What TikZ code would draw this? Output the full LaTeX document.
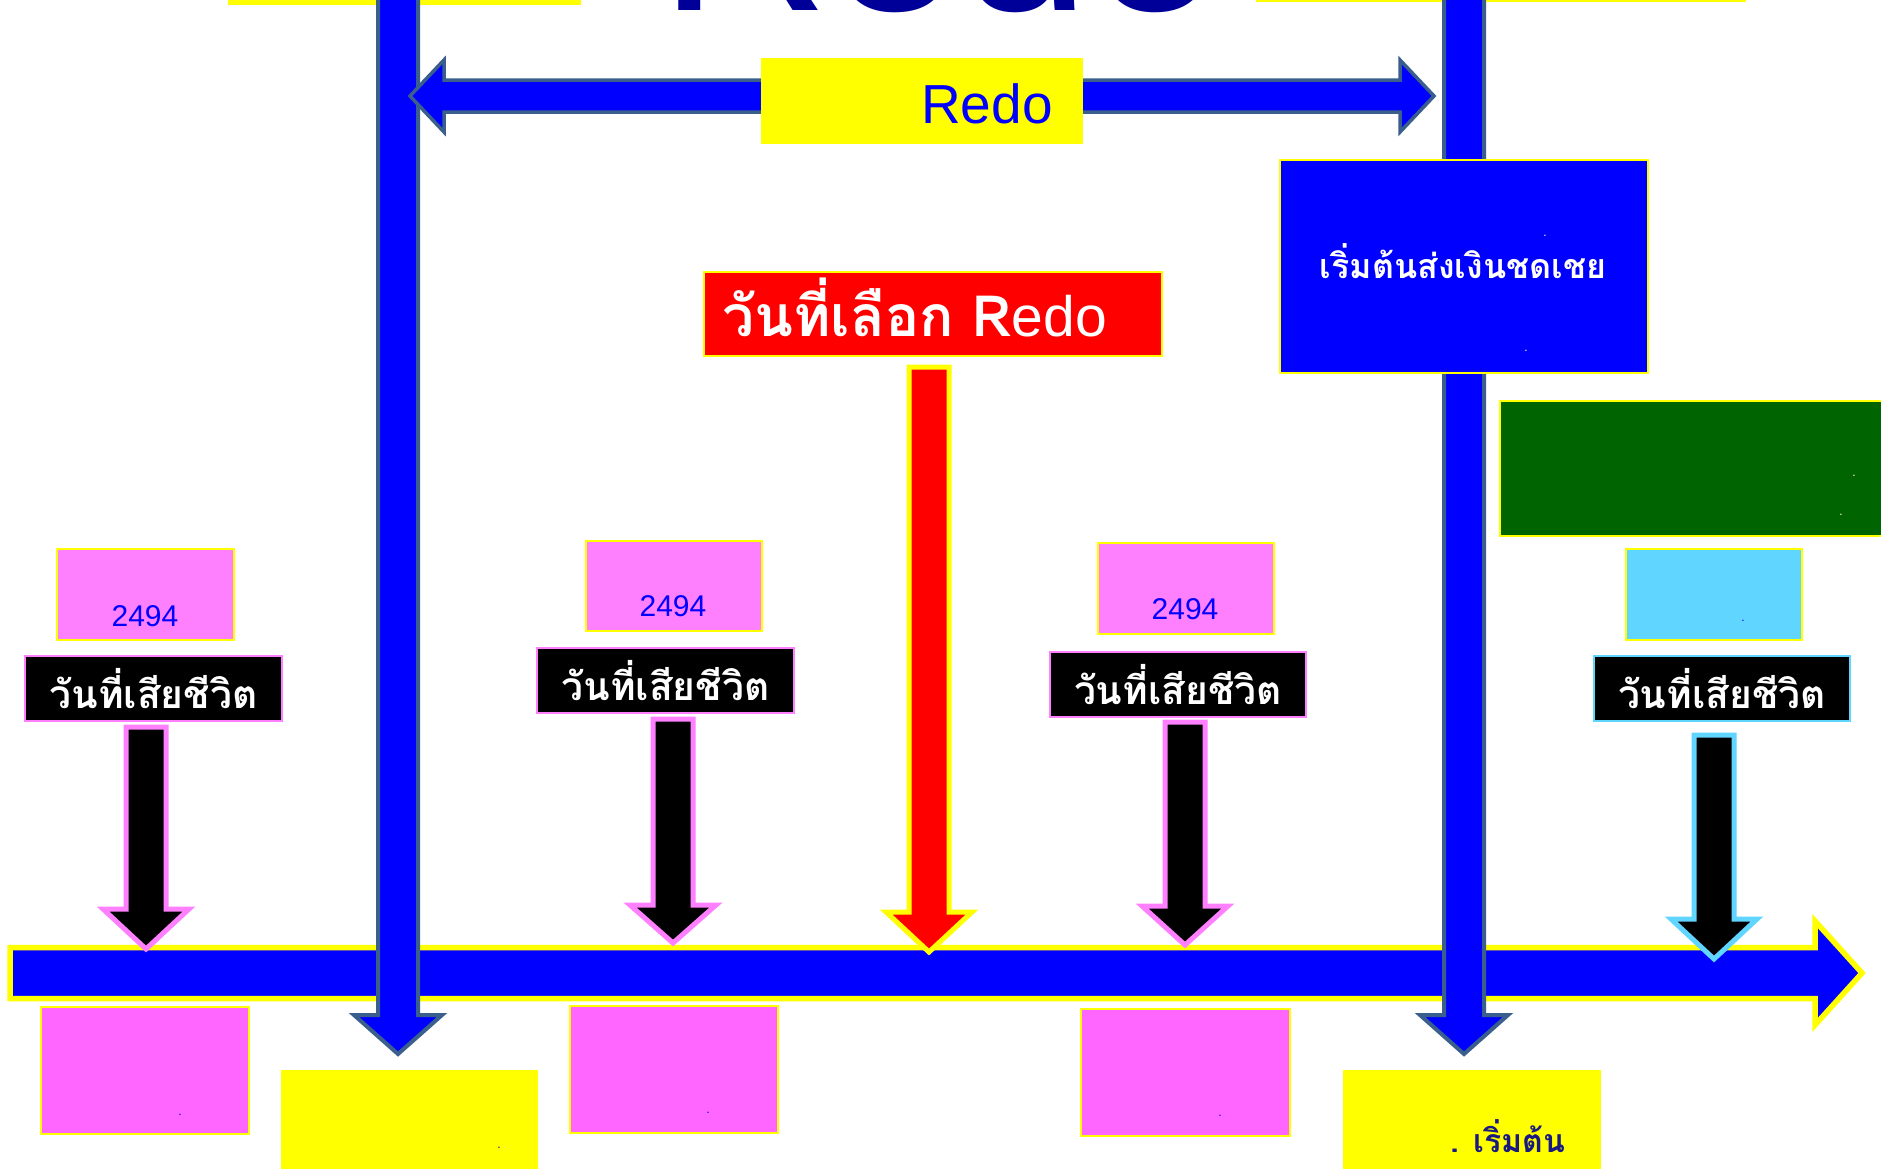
\documentclass[tikz,border=0pt]{standalone}
\usepackage{fontspec}
\setmainfont{Liberation Sans}
\newfontfamily\thai[Script=Thai]{Loma}
\definecolor{pblue}{RGB}{0,0,255}
\definecolor{steel}{RGB}{58,95,140}
\definecolor{pyellow}{RGB}{255,255,0}
\definecolor{pinkA}{RGB}{255,128,255}
\definecolor{pinkB}{RGB}{255,102,255}
\definecolor{pcyan}{RGB}{96,213,255}
\definecolor{pgreen}{RGB}{0,100,0}
\definecolor{pred}{RGB}{255,0,0}
\definecolor{navy}{RGB}{0,0,153}
\definecolor{navyt}{RGB}{25,25,130}
\newcommand\dnarrow[7]{%
  \draw[#7] ({#1-#5},#2) -- ({#1+#5},#2) -- ({#1+#5},#3) -- ({#1+#6},#3) -- (#1,#4)
    -- ({#1-#6},#3) -- ({#1-#5},#3) -- cycle;}
\tikzset{
  box/.style={draw=pyellow, line width=2pt, inner sep=0pt, outer sep=0pt},
  lbl/.style={fill=black, line width=2pt, inner sep=0pt, outer sep=0pt,
    minimum height=65pt, text=white, font=\thai\bfseries\fontsize{39}{42}\selectfont},
  yr/.style={text=pblue, inner sep=0pt, font=\fontsize{30}{36}\selectfont, anchor=base},
  dot/.style={inner sep=0pt, font=\fontsize{12}{14}\selectfont},
  blackarrow/.style={fill=black, line width=5pt, line join=miter},
  bluearrow/.style={fill=pblue, draw=steel, line width=4pt, line join=miter},
}
\begin{document}
\begin{tikzpicture}[x=1pt,y=-1pt]
\useasboundingbox (0,0) rectangle (1881,1168);
\clip (0,0) rectangle (1881,1168);
\fill[white] (0,0) rectangle (1881,1168);

% big title (mostly cut off by the top edge, as in the reference)
\node[anchor=base west, inner sep=0pt, text=navy, font=\fontsize{235}{240}\selectfont] (title) at (659,10) {Redo};

% top yellow bars
\fill[pyellow] (228,-50) rectangle (581,5);
\fill[pyellow] (1256,-50) rectangle (1746,1.5);

% main horizontal timeline arrow
\draw[fill=pblue, draw=pyellow, line width=5.5pt, line join=miter]
  (10,947.5) -- (1815,947.5) -- (1815,921) -- (1862,973) -- (1815,1025) -- (1815,998.5) -- (10,998.5) -- cycle;

% vertical blue arrows
\dnarrow{398}{-20}{1015}{1054}{20}{44}{bluearrow}
\dnarrow{1464}{-20}{1015}{1054}{20}{44}{bluearrow}

% double arrow
\draw[fill=pblue, draw=steel, line width=3.5pt, line join=miter]
  (410,96) -- (444,60) -- (444,80) -- (1400,80) -- (1400,60) -- (1434,96)
  -- (1400,132) -- (1400,112) -- (444,112) -- (444,132) -- cycle;
\node[box, fill=pyellow, draw=none, minimum width=322pt, minimum height=86pt] (redobox) at (922,101) {};
\node[anchor=base west, inner sep=0pt, text=pblue, font=\fontsize{55}{60}\selectfont] (redotxt) at (921,123) {Redo};

% blue box top right
\node[box, fill=pblue, minimum width=368pt, minimum height=213pt] (paybox) at (1464,266) {};
\node[inner sep=0pt, text=white, font=\thai\bfseries\fontsize{34}{40}\selectfont] (paytxt) at (1463,261) {เริ่มต้นส่งเงินชดเชย};
\node[dot, text=white] at (1545,236) {.};
\node[dot, text=white] at (1526,351) {.};

% green box
\node[box, fill=pgreen, minimum width=400pt, minimum height=135pt] (greenbox) at (1700,468) {};
\node[dot, text=white] at (1854,476) {.};
\node[dot, text=white] at (1841,515) {.};

% red box and arrow
\node[box, fill=pred, minimum width=458pt, minimum height=84pt] (redbox) at (933,314) {};
\node[anchor=base west, inner sep=0pt, text=white] (redtxt) at (722,336)
  {{\thai\bfseries\fontsize{57}{60}\selectfont วันที่เลือก R}{\fontsize{57}{60}\selectfont edo}};
\dnarrow{929}{367}{912}{952}{20}{43}{fill=pred, draw=pyellow, line width=5pt, line join=miter}

% top row boxes
\node[box, fill=pinkA, minimum width=177pt, minimum height=91pt] (p1) at (145.5,594.5) {};
\node[yr] at (145,626) {2494};
\node[box, fill=pinkA, minimum width=176pt, minimum height=90pt] (p2) at (674,586) {};
\node[yr] at (673,616) {2494};
\node[box, fill=pinkA, minimum width=176pt, minimum height=91pt] (p3) at (1186,588.5) {};
\node[yr] at (1185,619) {2494};
\node[box, fill=pcyan, minimum width=176pt, minimum height=91pt] (c4) at (1714,594.5) {};
\node[dot, text=pblue] at (1743,621) {.};

% labels
\node[lbl, draw=pinkA, minimum width=257pt] (l1) at (153.5,688.5) {วันที่เสียชีวิต};
\node[lbl, draw=pinkA, minimum width=257pt] (l2) at (665.5,680.5) {วันที่เสียชีวิต};
\node[lbl, draw=pinkA, minimum width=256pt] (l3) at (1178,684.5) {วันที่เสียชีวิต};
\node[lbl, draw=pcyan, minimum width=256pt] (l4) at (1722,688.5) {วันที่เสียชีวิต};

% black arrows
\dnarrow{146}{727}{909}{949}{20}{43}{blackarrow, draw=pinkA}
\dnarrow{673}{719}{905}{943}{20}{43}{blackarrow, draw=pinkA}
\dnarrow{1185}{722}{906}{945}{20}{43}{blackarrow, draw=pinkA}
\dnarrow{1714}{735}{919}{959}{20}{43}{blackarrow, draw=pcyan}

% bottom boxes
\node[box, fill=pinkB, minimum width=208pt, minimum height=127pt] (b1) at (145,1070.5) {};
\node[dot, text=pblue] at (180,1115) {.};
\node[box, fill=pyellow, draw=none, minimum width=257pt, minimum height=110pt] (b2) at (409.5,1125) {};
\node[dot, text=navyt] at (499,1148) {.};
\node[box, fill=pinkB, minimum width=208pt, minimum height=127pt] (b3) at (674,1069.5) {};
\node[dot, text=pblue] at (708,1113) {.};
\node[box, fill=pinkB, minimum width=209pt, minimum height=127pt] (b4) at (1185.5,1072.5) {};
\node[dot, text=pblue] at (1220,1116) {.};
\node[box, fill=pyellow, draw=none, minimum width=258pt, minimum height=110pt] (b5) at (1472,1125) {};
\node[anchor=base west, inner sep=0pt, text=navyt, font=\thai\bfseries\fontsize{32}{36}\selectfont] (starttxt) at (1450,1152) {. เริ่มต้น};
\end{tikzpicture}
\end{document}
